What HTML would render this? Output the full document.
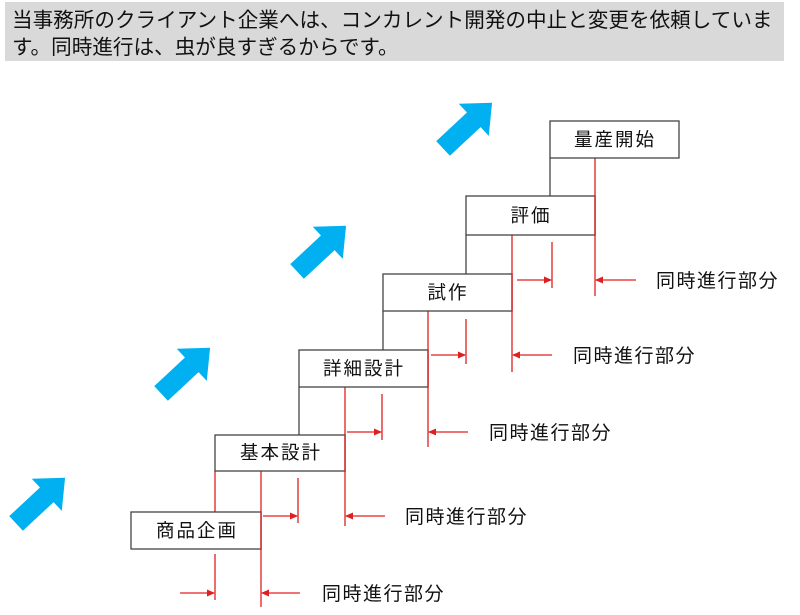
<!DOCTYPE html>
<html><head><meta charset="utf-8"><style>
body{margin:0;background:#fff;}
svg{display:block;font-family:"Liberation Sans","Noto Sans CJK JP",sans-serif;}
</style></head><body>
<svg width="800" height="615" viewBox="0 0 800 615" xmlns="http://www.w3.org/2000/svg">
<rect x="5" y="2" width="779" height="59" fill="#d9d9d9"/>
<text x="12" y="27" font-size="20.6" fill="#111">当事務所のクライアント企業へは、コンカレント開発の中止と変更を依頼していま</text>
<text x="12" y="54" font-size="20.6" fill="#111">す。同時進行は、虫が良すぎるからです。</text>

<g fill="#00b0f0">
<polygon points="-30,-10 12,-10 12,-22 37,0 12,22 12,10 -30,10" transform="translate(38,503) rotate(-43)"/>
<polygon points="-30,-10 12,-10 12,-22 37,0 12,22 12,10 -30,10" transform="translate(183,373) rotate(-43)"/>
<polygon points="-30,-10 12,-10 12,-22 37,0 12,22 12,10 -30,10" transform="translate(319,251) rotate(-43)"/>
<polygon points="-30,-10 12,-10 12,-22 37,0 12,22 12,10 -30,10" transform="translate(465,128) rotate(-43)"/>
</g>

<defs>
<marker id="a" markerWidth="8" markerHeight="8" refX="7" refY="4" orient="auto" markerUnits="userSpaceOnUse">
<path d="M0,0.5 L8,4 L0,7.5 Z" fill="#e02020"/></marker>
</defs>

<g stroke="#444" stroke-width="1.3">
<line x1="299" y1="387" x2="299" y2="435"/>
<line x1="383" y1="311" x2="383" y2="350"/>
<line x1="466" y1="235" x2="466" y2="274"/>
<line x1="550" y1="158" x2="550" y2="196"/>
</g>

<g stroke="#e02020" stroke-width="1.3">
<line x1="215" y1="471" x2="215" y2="512"/>
<line x1="261" y1="471" x2="261" y2="607"/>
<line x1="345" y1="387" x2="345" y2="526"/>
<line x1="428" y1="311" x2="428" y2="447"/>
<line x1="512" y1="235" x2="512" y2="372"/>
<line x1="595" y1="158" x2="595" y2="296"/>
<line x1="215" y1="554" x2="215" y2="600"/>
<line x1="298" y1="478" x2="298" y2="523"/>
<line x1="382" y1="394" x2="382" y2="440"/>
<line x1="466" y1="319" x2="466" y2="364"/>
<line x1="552" y1="242" x2="552" y2="288"/>
</g>
<g stroke="#e02020" stroke-width="1.3" marker-end="url(#a)">
<line x1="180" y1="593" x2="214" y2="593"/>
<line x1="300" y1="593" x2="262" y2="593"/>
<line x1="263" y1="516" x2="297" y2="516"/>
<line x1="385" y1="516" x2="346" y2="516"/>
<line x1="347" y1="432" x2="381" y2="432"/>
<line x1="468" y1="432" x2="429" y2="432"/>
<line x1="431" y1="355" x2="465" y2="355"/>
<line x1="552" y1="355" x2="513" y2="355"/>
<line x1="517" y1="280" x2="551" y2="280"/>
<line x1="636" y1="280" x2="596" y2="280"/>
</g>

<g fill="#fff" stroke="#444" stroke-width="1.3">
<rect x="131" y="512" width="130" height="37"/>
<rect x="215" y="435" width="130" height="36"/>
<rect x="299" y="350" width="129" height="37"/>
<rect x="383" y="274" width="129" height="37"/>
<rect x="466" y="196" width="129" height="39"/>
<rect x="550" y="121" width="129" height="37"/>
</g>
<g stroke="#e02020" stroke-width="1.3">
<line x1="261" y1="512" x2="261" y2="549"/>
<line x1="345" y1="435" x2="345" y2="471"/>
<line x1="428" y1="350" x2="428" y2="387"/>
<line x1="512" y1="274" x2="512" y2="311"/>
<line x1="595" y1="196" x2="595" y2="235"/>
</g>
<g font-size="18.5" fill="#111" text-anchor="middle" letter-spacing="2">
<text x="197" y="537">商品企画</text>
<text x="281" y="459">基本設計</text>
<text x="364" y="375">詳細設計</text>
<text x="448" y="299">試作</text>
<text x="531" y="222">評価</text>
<text x="615" y="146">量産開始</text>
</g>
<g font-size="19" fill="#111" letter-spacing="1.5">
<text x="322" y="600">同時進行部分</text>
<text x="405" y="523">同時進行部分</text>
<text x="489" y="439">同時進行部分</text>
<text x="573" y="362">同時進行部分</text>
<text x="656" y="287">同時進行部分</text>
</g>
</svg>
</body></html>
